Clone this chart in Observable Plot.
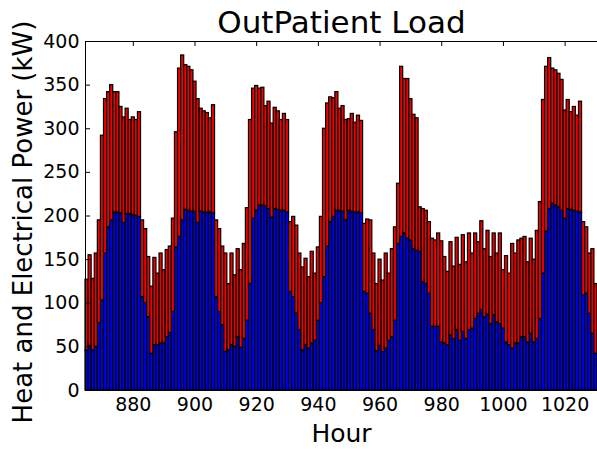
<!DOCTYPE html>
<html><head><meta charset="utf-8">
<script src="https://cdn.jsdelivr.net/npm/d3@7"></script>
<script src="https://cdn.jsdelivr.net/npm/@observablehq/plot@0.6"></script>
<style>
html,body{margin:0;padding:0;background:#fff;}
#chart{width:597px;height:449px;overflow:hidden;position:relative;}
</style></head><body><div id="chart"></div>
<script>
const title = "OutPatient Load";
const xLabel = "Hour";
const yLabel = "Heat and Electrical Power (kW)";
const firstHour = 865;
const xTicks = [880, 900, 920, 940, 960, 980, 1000, 1020];
const yTicks = [0, 50, 100, 150, 200, 250, 300, 350, 400];

// total load (heat + electrical), kW, hours 865..1030
const totalLoad = [
  127,155,128,157,195,
  292,334,342,350,342,342,325,313,323,310,313,310,319,
  195,185,153,119,152,134,157,138,161,165,197,
  296,369,384,373,371,367,354,334,323,320,318,312,327,
  195,185,165,157,122,157,132,162,138,168,209,
  310,346,349,346,347,326,331,306,324,320,310,317,310,
  193,199,189,157,141,151,130,159,134,164,199,
  300,329,336,335,342,323,326,310,311,317,307,315,309,
  191,196,195,157,122,150,126,157,134,162,187,
  237,371,357,357,334,316,312,210,208,206,193,174,172,
  180,171,153,136,170,142,175,144,178,147,180,157,180,170,194,162,183,153,180,157,180,138,154,134,168,157,172,174,
  176,147,174,150,183,216,
  333,371,381,369,367,363,356,321,333,319,325,315,331,193,187,157,162,122
];
// electrical load, kW, hours 865..1030
const electricLoad = [
  46,51,46,50,77,
  103,157,187,195,204,204,203,192,202,202,201,200,199,
  107,100,84,42,52,52,54,54,61,66,90,
  164,176,195,207,206,205,205,192,205,204,204,204,203,
  107,90,75,44,46,52,50,61,49,59,80,
  122,197,206,212,212,211,208,198,208,207,206,206,204,
  113,107,88,69,46,52,48,54,57,80,100,
  130,165,193,199,206,206,205,195,206,205,204,204,203,
  113,111,88,69,45,51,44,48,57,61,80,
  168,176,180,174,172,162,160,159,124,122,111,73,73,
  73,55,54,52,63,59,69,57,67,59,69,71,82,88,92,84,87,76,86,78,76,71,55,52,48,54,54,61,
  61,55,65,55,59,82,
  134,182,208,214,212,210,206,197,208,207,206,205,204,109,111,88,65,42
];

const rows = totalLoad.map((t, i) => ({hour: firstHour + i, total: t, elec: electricLoad[i]}));

const W = 597, H = 449, mL = 85, mR = 0, mT = 41, mB = 59;
const plotW = W - mL - mR, plotH = H - mT - mB;
const font = "'DejaVu Sans', sans-serif";

const chart = Plot.plot({
  width: W, height: H,
  marginLeft: mL, marginRight: mR, marginTop: mT, marginBottom: mB,
  style: {fontFamily: font, fontSize: "19px", color: "#000", background: "#fff", overflow: "visible"},
  x: {domain: [firstHour - 0.5, firstHour + totalLoad.length - 0.5]},
  y: {domain: [0, 400]},
  marks: [
    Plot.rect(rows, {x1: d => d.hour - 0.5, x2: d => d.hour + 0.5, y1: 0, y2: "elec",
      fill: "#0000f0", stroke: "#000", strokeWidth: 1.2, inset: 0}),
    Plot.rect(rows, {x1: d => d.hour - 0.5, x2: d => d.hour + 0.5, y1: "elec", y2: "total",
      fill: "#f00000", stroke: "#000", strokeWidth: 1.2, inset: 0}),
    Plot.ruleY([0, 400], {stroke: "#000", strokeWidth: 1}),
    Plot.ruleX([firstHour - 0.5], {stroke: "#000", strokeWidth: 1}),
    Plot.tickX(xTicks, {x: d => d, insetBottom: plotH - 5, stroke: "#000"}),
    Plot.tickY(yTicks, {y: d => d, insetRight: plotW - 5, stroke: "#000"}),
    Plot.axisX({ticks: xTicks, tickSize: 0, tickPadding: 7, fontSize: 19, label: null, tickFormat: d => String(d)}),
    Plot.axisY({ticks: yTicks, tickSize: 0, tickPadding: 6, fontSize: 19, label: null, tickFormat: d => String(d)}),
    Plot.text([title], {frameAnchor: "top", dy: -18, fontSize: 31, lineAnchor: "middle", textAnchor: "middle", fill: "#000"}),
    Plot.text([xLabel], {frameAnchor: "bottom", dy: 43, fontSize: 25, lineAnchor: "middle", textAnchor: "middle", fill: "#000"}),
    Plot.text([yLabel], {frameAnchor: "left", dx: -62, dy: 6, rotate: -90, fontSize: 26, lineAnchor: "middle", textAnchor: "middle", fill: "#000"})
  ]
});
document.getElementById("chart").appendChild(chart);
</script></body></html>
